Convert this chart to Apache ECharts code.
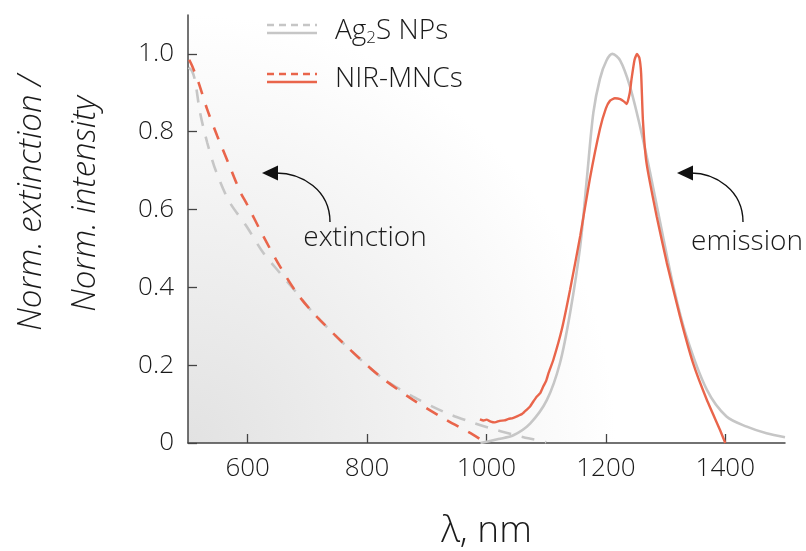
<!DOCTYPE html>
<html>
<head>
<meta charset="utf-8">
<script src="https://cdn.jsdelivr.net/npm/echarts@6/dist/echarts.min.js"></script>
<style>
html,body{margin:0;padding:0;background:#fff;}
#chart{width:806px;height:551px;}
</style>
</head>
<body>
<div id="chart"></div>
<script>
// ---- data ----
const xTicks = [600, 800, 1000, 1200, 1400];
const yTicks = [0, 0.2, 0.4, 0.6, 0.8, 1.0];

// Ag2S NPs extinction (grey dashed)
const agExtX = [501, 507, 512, 520, 532, 547, 569, 598, 626, 654, 682, 710, 766, 822, 877, 933, 972, 1006, 1044, 1070, 1090, 1100];
const agExtY = [0.965, 0.955, 0.93, 0.851, 0.773, 0.698, 0.621, 0.557, 0.489, 0.437, 0.386, 0.334, 0.248, 0.171, 0.119, 0.077, 0.055, 0.038, 0.022, 0.012, 0.006, 0.002];

// NIR-MNCs extinction (red dashed)
const nirExtX = [502, 507, 518, 532, 549, 567, 587, 599, 626, 654, 682, 710, 766, 822, 877, 933, 978, 997];
const nirExtY = [0.985, 0.969, 0.925, 0.858, 0.789, 0.722, 0.647, 0.613, 0.532, 0.454, 0.386, 0.334, 0.248, 0.171, 0.111, 0.059, 0.021, 0.002];

// Ag2S NPs emission (grey solid)
const agEmX = [990, 1000, 1020, 1045, 1073, 1101, 1123, 1140, 1157, 1168, 1179, 1190, 1201, 1211, 1224, 1240, 1257, 1274, 1291, 1313, 1335, 1369, 1402, 1436, 1469, 1500];
const agEmY = [0.0, 0.003, 0.01, 0.02, 0.05, 0.11, 0.205, 0.334, 0.506, 0.678, 0.849, 0.936, 0.983, 1.0, 0.983, 0.918, 0.815, 0.695, 0.566, 0.403, 0.274, 0.137, 0.068, 0.042, 0.025, 0.015];

// NIR-MNCs emission (red solid)
const nirEmX = [989, 995, 1000, 1007, 1014, 1022, 1030, 1037, 1044, 1052, 1060, 1067, 1073, 1079, 1084, 1090, 1095, 1100, 1104, 1112, 1126, 1140, 1157, 1173, 1190, 1200, 1207, 1215, 1224, 1230, 1235, 1240, 1243, 1248, 1252, 1256, 1259, 1262, 1268, 1285, 1302, 1324, 1346, 1369, 1391, 1400];
const nirEmY = [0.061, 0.058, 0.060, 0.055, 0.053, 0.057, 0.058, 0.062, 0.064, 0.069, 0.075, 0.085, 0.094, 0.108, 0.119, 0.128, 0.145, 0.160, 0.180, 0.214, 0.291, 0.394, 0.532, 0.678, 0.807, 0.860, 0.880, 0.886, 0.884, 0.878, 0.871, 0.90, 0.936, 0.985, 1.0, 0.99, 0.95, 0.83, 0.72, 0.583, 0.463, 0.326, 0.205, 0.111, 0.034, 0.0];

const zip = (xs, ys) => xs.map((x, i) => [x, ys[i]]);

const RED = '#e9654b';
const GREY = '#c6c6c6';
const FONT = "'Open Sans', 'DejaVu Sans', sans-serif";
const TXT = '#1a1a1a';

const chart = echarts.init(document.getElementById('chart'), null, {renderer: 'canvas'});

function arrow(x0, y0, x1, y1) {
  return [
    {type: 'bezierCurve', shape: {x1: x0, y1: y0, cpx1: x0, cpy1: y0 - 32, cpx2: x0 - 28, cpy2: y1, x2: x1 + 14, y2: y1},
      style: {stroke: '#111', lineWidth: 1.4, fill: null}, silent: true},
    {type: 'polygon', shape: {points: [[x1, y1], [x1 + 16, y1 - 7.5], [x1 + 16, y1 + 7.5]]},
      style: {fill: '#111'}, silent: true}
  ];
}

const option = {
  backgroundColor: '#fff',
  animation: false,
  grid: {
    left: 188, right: 21, top: 15, bottom: 108, show: true, borderWidth: 0,
    containLabel: false, outerBoundsMode: 'none',
    backgroundColor: {type: 'radial', x: 0, y: 1, r: 1.0,
      colorStops: [{offset: 0, color: '#e2e2e2'}, {offset: 0.55, color: '#f2f2f2'}, {offset: 1, color: '#ffffff'}]}
  },
  xAxis: {
    type: 'value', min: 500, max: 1500,
    name: 'λ, nm', nameLocation: 'middle', nameGap: 70,
    nameTextStyle: {fontFamily: FONT, fontSize: 37, fontWeight: 300, color: TXT},
    axisLine: {show: true, lineStyle: {color: '#444', width: 1.5}},
    axisTick: {show: true, inside: true, length: 9, customValues: xTicks, lineStyle: {color: '#444', width: 1.3}},
    axisLabel: {customValues: xTicks, fontFamily: FONT, fontSize: 26, fontWeight: 300, color: TXT, margin: 13,
      formatter: v => String(v)},
    splitLine: {show: false}
  },
  yAxis: {
    type: 'value', min: 0, max: 1.1,
    axisLine: {show: true, lineStyle: {color: '#444', width: 1.5}},
    axisTick: {show: true, inside: true, length: 9, customValues: yTicks, lineStyle: {color: '#444', width: 1.3}},
    axisLabel: {customValues: yTicks, fontFamily: FONT, fontSize: 26, fontWeight: 300, color: TXT, margin: 14,
      formatter: v => (v === 0 ? '0' : v.toFixed(1))},
    splitLine: {show: false}
  },
  series: [
    {name: 'Ag2S NPs extinction', type: 'line', data: zip(agExtX, agExtY), showSymbol: false, smooth: 0.3,
      lineStyle: {color: GREY, width: 2.6, type: [13, 11]}, z: 2},
    {name: 'NIR-MNCs extinction', type: 'line', data: zip(nirExtX, nirExtY), showSymbol: false, smooth: 0.3,
      lineStyle: {color: RED, width: 2.6, type: [13, 11]}, z: 3},
    {name: 'Ag2S NPs emission', type: 'line', data: zip(agEmX, agEmY), showSymbol: false, smooth: 0.3,
      lineStyle: {color: GREY, width: 2.6}, z: 4},
    {name: 'NIR-MNCs emission', type: 'line', data: zip(nirEmX, nirEmY), showSymbol: false, smooth: 0.15,
      lineStyle: {color: RED, width: 2.4}, z: 5}
  ],
  graphic: [
    {type: 'text', x: 32, y: 203, rotation: Math.PI / 2,
      style: {text: 'Norm. extinction /', font: 'italic 300 33px ' + FONT, fill: TXT, align: 'center', verticalAlign: 'middle'}},
    {type: 'text', x: 86, y: 204, rotation: Math.PI / 2,
      style: {text: 'Norm. intensity', font: 'italic 300 33px ' + FONT, fill: TXT, align: 'center', verticalAlign: 'middle'}},
    // legend
    {type: 'line', shape: {x1: 267, y1: 25, x2: 317, y2: 25}, style: {stroke: GREY, lineWidth: 2.4, lineDash: [7, 5]}},
    {type: 'line', shape: {x1: 267, y1: 33, x2: 317, y2: 33}, style: {stroke: GREY, lineWidth: 2.4}},
    {type: 'text', x: 335, y: 31,
      style: {rich: {n: {fontFamily: FONT, fontSize: 28, fontWeight: 300, fill: TXT},
                     s: {fontFamily: FONT, fontSize: 17, fontWeight: 300, fill: TXT, padding: [14, 0, 0, 0]}},
              text: '{n|Ag}{s|2}{n|S NPs}', verticalAlign: 'middle', align: 'left'}},
    {type: 'line', shape: {x1: 267, y1: 74, x2: 317, y2: 74}, style: {stroke: RED, lineWidth: 2.4, lineDash: [7, 5]}},
    {type: 'line', shape: {x1: 267, y1: 82, x2: 317, y2: 82}, style: {stroke: RED, lineWidth: 2.4}},
    {type: 'text', x: 335, y: 79,
      style: {text: 'NIR-MNCs', font: '300 28px ' + FONT, fill: TXT, verticalAlign: 'middle', align: 'left'}},
    // annotations
    ...arrow(330, 222, 262, 173),
    {type: 'text', x: 365, y: 238,
      style: {text: 'extinction', font: '300 28px ' + FONT, fill: TXT, align: 'center', verticalAlign: 'middle'}},
    ...arrow(743, 222, 677, 173),
    {type: 'text', x: 747, y: 242,
      style: {text: 'emission', font: '300 28px ' + FONT, fill: TXT, align: 'center', verticalAlign: 'middle'}}
  ]
};
chart.setOption(option);
</script>
</body>
</html>
